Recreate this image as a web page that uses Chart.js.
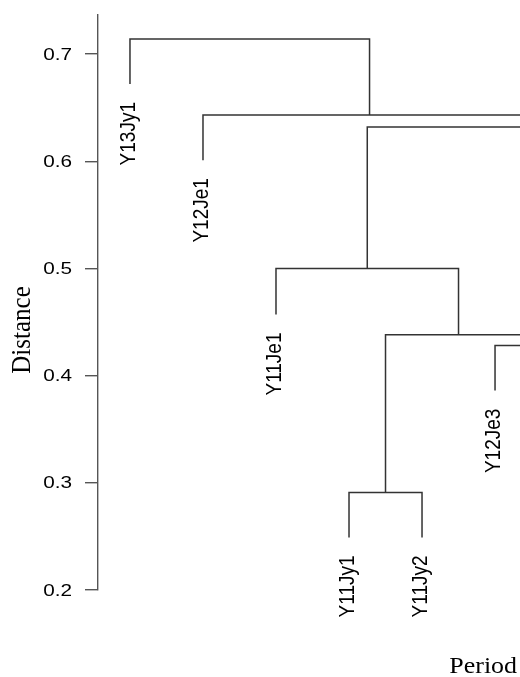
<!DOCTYPE html>
<html>
<head>
<meta charset="utf-8">
<script src="https://cdn.jsdelivr.net/npm/chart.js@4/dist/chart.umd.min.js"></script>
<style>
html,body{margin:0;padding:0;background:#fff;}
canvas{display:block;}
</style>
</head>
<body>
<canvas id="c" width="520" height="677"></canvas>
<script>
// ---- data (dendrogram, cropped on the right in the reference) ----
// leaves in plotting order; leaves 7..11 lie beyond the visible (cropped) area
const leafLabels = ['Y13Jy1','Y12Je1','Y11Je1','Y11Jy1','Y11Jy2','Y12Je3','','','','',''];
// height where each leaf's hanging branch ends (null = not visible / unknown)
const leafEnds   = [0.672, 0.601, 0.457, 0.249, 0.249, 0.386, null, null, null, null, null];
// R-style merge table: negative = leaf number, positive = earlier merge row
const mergeLeft    = [-4, -6, 1, -3, -10, -9, -8, 4, -2, -1];
const mergeRight   = [-5, -7, 2,  3, -11,  5,  6, 7,  8,  9];
const mergeHeights = [0.291, 0.428, 0.438, 0.500, 0.45, 0.53, 0.58, 0.632, 0.643, 0.714];
// y-axis ticks
const yTicks = [0.2, 0.3, 0.4, 0.5, 0.6, 0.7];
const yTitle = 'Distance';
const xTitle = 'Period';

// ---- build branch segments from the tree ----
const mergeX = [];
function nodeX(id){ return id < 0 ? -id : mergeX[id-1]; }
mergeLeft.forEach((l,i)=>{ mergeX[i] = (nodeX(l) + nodeX(mergeRight[i]))/2; });
function nodeTop(id, parentH){
  if (id > 0) return mergeHeights[id-1];
  const e = leafEnds[-id-1];
  return e == null ? parentH : e;
}
const lineColor = '#333333';
const datasets = mergeLeft.map((l,i)=>{
  const r = mergeRight[i], h = mergeHeights[i];
  return {
    data: [
      {x: nodeX(l), y: nodeTop(l,h)},
      {x: nodeX(l), y: h},
      {x: nodeX(r), y: h},
      {x: nodeX(r), y: nodeTop(r,h)}
    ],
    borderColor: lineColor, borderWidth: 1.5, pointRadius: 0, tension: 0,
    fill: false
  };
});

const textPlugin = {
  id: 'texts',
  afterDraw(chart){
    const ctx = chart.ctx, xs = chart.scales.x, ys = chart.scales.y;
    ctx.save();
    ctx.fillStyle = '#000';
    // y tick labels
    ctx.font = '17px "Liberation Sans", Arial, sans-serif';
    ctx.textAlign = 'right';
    ctx.textBaseline = 'middle';
    yTicks.forEach(v=>{
      ctx.save();
      ctx.translate(72, ys.getPixelForValue(v) + 1);
      ctx.scale(1.22, 1);
      ctx.fillText(v.toFixed(1), 0, 0);
      ctx.restore();
    });
    // leaf labels hanging below each leaf
    ctx.font = '19px "Liberation Sans", Arial, sans-serif';
    leafLabels.forEach((lab,i)=>{
      if (!lab || leafEnds[i] == null) return;
      const px = xs.getPixelForValue(i+1);
      const py = ys.getPixelForValue(leafEnds[i]) + 18;
      ctx.save();
      ctx.translate(px - 1, py);
      ctx.scale(1.2, 1);
      ctx.rotate(-Math.PI/2);
      ctx.fillText(lab, 0, 0);
      ctx.restore();
    });
    // axis titles
    ctx.font = '25px "Liberation Serif", "Times New Roman", serif';
    ctx.textBaseline = 'alphabetic';
    ctx.save();
    ctx.translate(30, 330);
    ctx.scale(1.1, 1);
    ctx.rotate(-Math.PI/2);
    ctx.textAlign = 'center';
    ctx.fillText(yTitle, 0, 0);
    ctx.restore();
    ctx.font = '24px "Liberation Serif", "Times New Roman", serif';
    ctx.save();
    ctx.translate(517, 673);
    ctx.scale(1.08, 1);
    ctx.textAlign = 'right';
    ctx.fillText(xTitle, 0, 0);
    ctx.restore();
    ctx.restore();
  }
};

new Chart(document.getElementById('c'), {
  type: 'line',
  data: { datasets },
  options: {
    responsive: false,
    animation: false,
    layout: { padding: { left: 0, right: 0, top: 15, bottom: 87 } },
    plugins: { legend: { display: false }, tooltip: { enabled: false } },
    scales: {
      x: { type: 'linear', display: false, min: 0.562, max: 6.342 },
      y: {
        type: 'linear', min: 0.2, max: 0.7364,
        afterBuildTicks(scale){ scale.ticks = yTicks.map(v=>({value:v})); },
        afterFit(scale){ scale.width = 98; scale.paddingTop = 0; scale.paddingBottom = 0; },
        border: { display: true, color: '#555', width: 1.4 },
        grid: { drawOnChartArea: false, drawTicks: true, tickLength: 13, color: '#555', lineWidth: 1.4 },
        ticks: { display: false }
      }
    }
  },
  plugins: [textPlugin]
});
</script>
</body>
</html>
